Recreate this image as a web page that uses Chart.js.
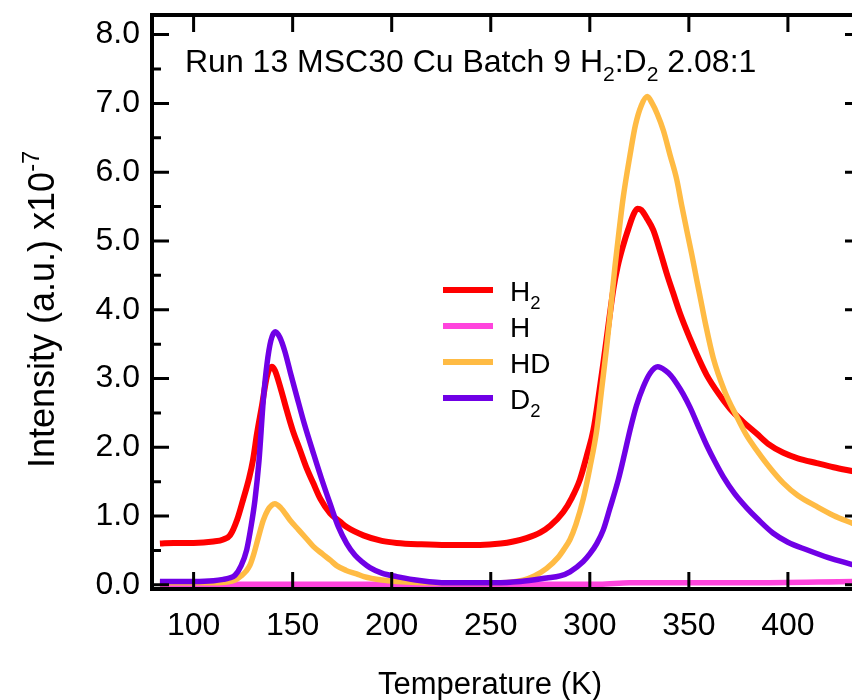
<!DOCTYPE html>
<html>
<head>
<meta charset="utf-8">
<script src="https://cdn.jsdelivr.net/npm/chart.js@4.4.1/dist/chart.umd.min.js"></script>
<style>
  html, body { margin: 0; padding: 0; background: #fff; overflow: hidden; }
  #wrap { width: 852px; height: 700px; overflow: hidden; }
</style>
</head>
<body>
<div id="wrap"><canvas id="tpd" width="880" height="700"></canvas></div>
<script>
// TPD traces (temperature in K, intensity in units of 1e-7)
const h2Temp = [83, 90, 100, 110, 115, 118.4, 122, 125, 128, 130, 132, 134.4, 137, 139.4, 141, 144, 147, 150, 153.7, 157, 160.4, 164, 168.9, 173.9, 177.3, 185.7, 195, 202.5, 215, 227.8, 244.6, 255, 261.4, 268, 274.9, 280, 286.6, 291, 295, 298.5, 301.8, 304.5, 306.8, 309.5, 311.9, 314, 317, 319.4, 322, 324, 326, 329, 332, 335.5, 338.8, 342, 345.5, 350.6, 355.6, 359, 365, 370.8, 377, 384.2, 390, 397.7, 405, 414.5, 423, 433];
const h2Vals = [0.60, 0.61, 0.61, 0.63, 0.66, 0.72, 0.95, 1.24, 1.55, 1.82, 2.20, 2.59, 3.03, 3.17, 3.12, 2.85, 2.54, 2.25, 1.96, 1.70, 1.48, 1.25, 1.04, 0.92, 0.84, 0.72, 0.64, 0.61, 0.59, 0.58, 0.58, 0.60, 0.63, 0.68, 0.76, 0.86, 1.06, 1.27, 1.53, 1.88, 2.25, 2.75, 3.22, 3.80, 4.30, 4.62, 4.95, 5.17, 5.38, 5.47, 5.45, 5.32, 5.16, 4.85, 4.53, 4.25, 3.95, 3.58, 3.25, 3.05, 2.78, 2.56, 2.38, 2.20, 2.05, 1.92, 1.84, 1.77, 1.71, 1.65];

const hTemp = [83, 150, 250, 305, 320, 380, 433];
const hVals = [0.01, 0.01, 0.01, 0.01, 0.03, 0.03, 0.05];

const hdTemp = [83, 110, 117, 121, 124, 126.5, 128.5, 130.5, 132.5, 135.2, 137.5, 139.5, 141, 144, 148.7, 153, 157, 160.4, 165, 169, 172.2, 177, 182.3, 186, 195, 202.5, 220, 250, 260, 266.4, 272, 278.2, 284, 287, 290, 293, 296.7, 300, 303.5, 306, 308.5, 310.5, 312.7, 315, 316.9, 320.3, 323, 326, 329, 331.5, 334, 337.1, 340.5, 343.9, 346.5, 348.9, 351.5, 354, 355.6, 358.5, 362.3, 368, 374.1, 379, 384.2, 391, 397.7, 405, 414.5, 423, 433];
const hdVals = [0.03, 0.03, 0.04, 0.07, 0.13, 0.20, 0.29, 0.46, 0.67, 0.94, 1.09, 1.16, 1.18, 1.12, 0.94, 0.80, 0.67, 0.56, 0.45, 0.36, 0.28, 0.21, 0.16, 0.12, 0.07, 0.05, 0.03, 0.03, 0.04, 0.07, 0.13, 0.24, 0.40, 0.52, 0.66, 0.88, 1.25, 1.70, 2.25, 2.85, 3.46, 4.00, 4.63, 5.20, 5.64, 6.25, 6.68, 6.97, 7.10, 7.00, 6.85, 6.61, 6.25, 5.89, 5.50, 5.16, 4.80, 4.43, 4.20, 3.78, 3.30, 2.82, 2.45, 2.18, 1.96, 1.70, 1.48, 1.30, 1.14, 1.01, 0.89];

const d2Temp = [83, 100, 110, 115, 118, 120.9, 124, 126.8, 129, 131, 133, 135.2, 137, 139, 141.2, 143.5, 146, 149, 152, 156, 160.4, 164.5, 168.9, 173, 177.3, 181.5, 185.7, 189, 195, 202.5, 215, 227.8, 252, 265, 278.2, 285, 290, 296.7, 300, 303.5, 306.8, 310, 314.4, 317.5, 320.3, 323.5, 327, 330.5, 334.3, 338, 341, 344, 347, 350.6, 355.6, 359, 363, 367.4, 373, 379.2, 385, 392.6, 400, 409.5, 420, 433];
const d2Vals = [0.05, 0.05, 0.06, 0.08, 0.10, 0.14, 0.28, 0.51, 0.85, 1.24, 1.80, 2.69, 3.20, 3.55, 3.68, 3.60, 3.40, 3.07, 2.75, 2.33, 1.92, 1.55, 1.18, 0.85, 0.60, 0.43, 0.32, 0.25, 0.17, 0.12, 0.06, 0.03, 0.03, 0.05, 0.10, 0.13, 0.19, 0.34, 0.45, 0.60, 0.80, 1.10, 1.53, 1.90, 2.25, 2.60, 2.88, 3.08, 3.17, 3.12, 3.04, 2.92, 2.78, 2.58, 2.25, 2.03, 1.80, 1.57, 1.33, 1.12, 0.95, 0.75, 0.62, 0.51, 0.40, 0.29];

const seriesNames = ['H₂', 'H', 'HD', 'D₂'];
const seriesColors = ['#ff0000', '#ff44dd', '#ffbb44', '#7000e6'];

const xTicks = [100, 150, 200, 250, 300, 350, 400];
const yTicks = [0, 1, 2, 3, 4, 5, 6, 7, 8];

const annotation = 'Run 13 MSC30 Cu Batch 9 H₂:D₂ 2.08:1';
const xTitle = 'Temperature (K)';
const yTitle = 'Intensity (a.u.) x10⁻⁷';

const FONT = '"Liberation Sans", Arial, Helvetica, sans-serif';

function pairs(t, v) {
  return t.map((x, i) => ({ x: x, y: v[i] }));
}

// text with sub/superscript glyphs drawn as smaller shifted runs
const SUB = { '₂': '2' };
const SUP = { '⁻': '-', '⁷': '7' };
function richParts(text) {
  const parts = [];
  for (const ch of text) {
    const kind = SUB[ch] ? 'sub' : (SUP[ch] ? 'sup' : 'n');
    const c = SUB[ch] || SUP[ch] || ch;
    const last = parts[parts.length - 1];
    if (last && last.kind === kind) last.s += c;
    else parts.push({ kind: kind, s: c });
  }
  return parts;
}
function drawRich(ctx, text, x, y, size) {
  let cx = x;
  richParts(text).forEach(p => {
    const fs = p.kind === 'n' ? size : size * 0.66;
    const dy = p.kind === 'sub' ? size * 0.27 : (p.kind === 'sup' ? -size * 0.42 : 0);
    ctx.font = fs + 'px ' + FONT;
    ctx.fillText(p.s, cx, y + dy);
    cx += ctx.measureText(p.s).width;
  });
  return cx - x;
}
function richWidth(ctx, text, size) {
  let w = 0;
  richParts(text).forEach(p => {
    ctx.font = (p.kind === 'n' ? size : size * 0.66) + 'px ' + FONT;
    w += ctx.measureText(p.s).width;
  });
  return w;
}

// box frame with inward ticks on all four sides (minor ticks on y only)
const framePlugin = {
  id: 'frame',
  afterDatasetsDraw(chart) {
    const { ctx, chartArea: a, scales: { x, y } } = chart;
    ctx.save();
    ctx.strokeStyle = '#000';
    ctx.lineWidth = 4;
    ctx.strokeRect(a.left, a.top, a.right - a.left, a.bottom - a.top);
    ctx.lineWidth = 3;
    ctx.beginPath();
    x.ticks.forEach(t => {
      const px = x.getPixelForValue(t.value);
      ctx.moveTo(px, a.bottom); ctx.lineTo(px, a.bottom - 17);
      ctx.moveTo(px, a.top); ctx.lineTo(px, a.top + 17);
    });
    y.ticks.forEach(t => {
      const py = y.getPixelForValue(t.value);
      ctx.moveTo(a.left, py); ctx.lineTo(a.left + 17, py);
      ctx.moveTo(a.right, py); ctx.lineTo(a.right - 17, py);
      const mv = t.value + 0.5;
      if (mv < y.max) {
        const pm = y.getPixelForValue(mv);
        ctx.moveTo(a.left, pm); ctx.lineTo(a.left + 9, pm);
        ctx.moveTo(a.right, pm); ctx.lineTo(a.right - 9, pm);
      }
    });
    ctx.stroke();
    ctx.restore();
  },
  afterDraw(chart) {
    const { ctx } = chart;
    ctx.save();
    ctx.fillStyle = '#000';
    ctx.textAlign = 'left';
    ctx.textBaseline = 'alphabetic';

    // annotation at the top of the plot
    drawRich(ctx, annotation, 185, 72, 32);

    // x title
    const xw = richWidth(ctx, xTitle, 31);
    drawRich(ctx, xTitle, 490 - xw / 2, 694, 31);

    // y title, rotated
    ctx.save();
    ctx.translate(54, 468);
    ctx.rotate(-Math.PI / 2);
    drawRich(ctx, yTitle, 0, 0, 36);
    ctx.restore();

    // legend
    chart.data.datasets.forEach((ds, i) => {
      const ly = 290 + i * 36;
      ctx.strokeStyle = ds.borderColor;
      ctx.lineWidth = 6;
      ctx.beginPath();
      ctx.moveTo(443, ly);
      ctx.lineTo(493, ly);
      ctx.stroke();
      ctx.fillStyle = '#000';
      drawRich(ctx, ds.label, 510, ly + 11, 28);
    });
    ctx.restore();
  }
};

const datasets = [
  { label: seriesNames[0], data: pairs(h2Temp, h2Vals), borderColor: seriesColors[0], order: 3, borderWidth: 6 },
  { label: seriesNames[1], data: pairs(hTemp, hVals), borderColor: seriesColors[1], order: 2, borderWidth: 5.5 },
  { label: seriesNames[2], data: pairs(hdTemp, hdVals), borderColor: seriesColors[2], order: 1, borderWidth: 5.5 },
  { label: seriesNames[3], data: pairs(d2Temp, d2Vals), borderColor: seriesColors[3], order: 0, borderWidth: 5.5 }
].map(d => Object.assign(d, {
  backgroundColor: d.borderColor,
  pointRadius: 0,
  fill: false,
  cubicInterpolationMode: 'monotone'
}));

const ctx = document.getElementById('tpd').getContext('2d');

new Chart(ctx, {
  type: 'line',
  data: { datasets: datasets },
  options: {
    responsive: false,
    animation: false,
    devicePixelRatio: 1,
    // right edge of the frame sits just past the visible 852px
    layout: { padding: { top: 15, right: 18, left: 0, bottom: 0 } },
    plugins: {
      legend: { display: false },
      tooltip: { enabled: false }
    },
    scales: {
      x: {
        type: 'linear',
        min: 79,
        max: 437.4,
        grid: { display: false },
        border: { display: false },
        afterBuildTicks: s => { s.ticks = xTicks.map(v => ({ value: v })); },
        afterFit: s => {
          s.height = 111;
          s.paddingLeft = 0; s.paddingRight = 0;
        },
        ticks: {
          padding: 10,
          color: '#000',
          font: { family: FONT, size: 32 },
          callback: v => String(v)
        }
      },
      y: {
        min: -0.06,
        max: 8.285,
        grid: { display: false },
        border: { display: false },
        afterBuildTicks: s => { s.ticks = yTicks.map(v => ({ value: v })); },
        afterFit: s => {
          s.width = 152;
          s.paddingTop = 0; s.paddingBottom = 0;
        },
        ticks: {
          padding: 4,
          color: '#000',
          font: { family: FONT, size: 32 },
          callback: v => Number(v).toFixed(1)
        }
      }
    }
  },
  plugins: [framePlugin]
});
</script>
</body>
</html>
